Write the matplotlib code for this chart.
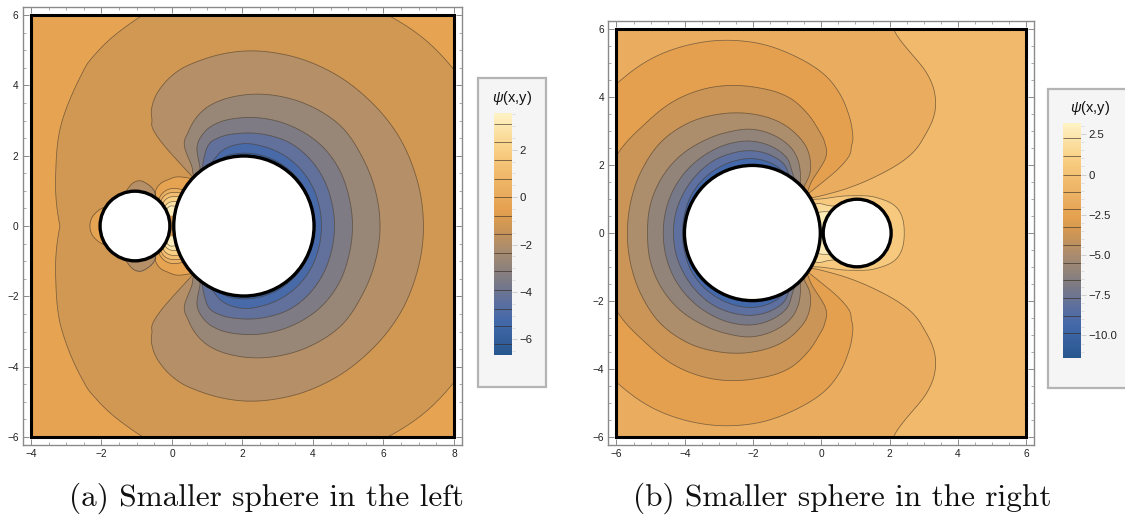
import numpy as np
import matplotlib
matplotlib.use("Agg")
import matplotlib.pyplot as plt
import matplotlib.tri as mtri
from matplotlib.colors import LinearSegmentedColormap
from matplotlib.patches import Rectangle, Circle

plt.rcParams['font.family'] = ['Liberation Sans', 'DejaVu Sans']
plt.rcParams['mathtext.fontset'] = 'custom'
plt.rcParams['mathtext.rm'] = 'Liberation Sans'
plt.rcParams['mathtext.it'] = 'Liberation Sans:italic'

# ---------- Readings from the picture: psi levels and where each contour sits ----------
LEFT_RANGE = [-6.66, 3.55]
RIGHT_RANGE = [-11.4, 3.2]
LEFT_LINES = [-6.2, -5.45, -4.7, -3.9, -3.1, -2.34, -1.55, -0.79, 0.0, 0.76, 1.55, 2.33, 3.1]
RIGHT_LINES = [-9.84, -8.78, -7.68, -6.58, -5.47, -4.4, -3.28, -2.17, -1.06, 0.0, 1.14, 2.24]
LEFT_TICKS = [2, 0, -2, -4, -6]
RIGHT_TICKS = [2.5, 0, -2.5, -5.0, -7.5, -10.0]
LEFT_SPHERES = [(2.04, 1.99), (-1.05, 0.99)]
RIGHT_SPHERES = [(-2.02, 1.99), (1.05, 0.995)]

# Left panel, around the large sphere: angle (deg from +x), radius of each contour
L_ANG = [0, 15, 30, 45, 60, 75, 90, 105, 112, 120, 126, 130, 134, 135.5, 150, 165, 180]
L_PSI = [-6.66, -6.2, -5.45, -4.7, -3.9, -3.1, -2.34, -1.55, -0.79, 0.0]
L_R = [
    [.5] * 17,
    [1.9, 1.9, 1.9, 1.9, 1.9, 1.9, 1.9, 1.88, 1.84, 1.74, 1.68, 1.6, 1.5, 1.45, 1.4, 1.35, 1.3],
    [2.02, 2.03, 2.06, 2.07, 2.08, 2.08, 2.07, 2.03, 1.94, 1.84, 1.76, 1.68, 1.58, 1.53, 1.48, 1.43, 1.38],
    [2.24, 2.25, 2.28, 2.31, 2.33, 2.34, 2.34, 2.22, 2.08, 1.92, 1.84, 1.76, 1.66, 1.6, 1.55, 1.5, 1.46],
    [2.61, 2.62, 2.66, 2.7, 2.72, 2.68, 2.64, 2.6, 2.52, 2.2, 1.95, 1.85, 1.74, 1.68, 1.63, 1.58, 1.54],
    [3.12, 3.13, 3.18, 3.2, 3.17, 3.13, 3.08, 3.0, 2.88, 2.58, 2.05, 1.95, 1.84, 1.76, 1.71, 1.66, 1.62],
    [3.9, 3.9, 3.92, 3.98, 3.92, 3.83, 3.72, 3.55, 3.38, 3.08, 2.8, 2.25, 2.0, 1.88, 1.8, 1.75, 1.7],
    [5.13, 5.12, 5.11, 5.07, 5.05, 5.02, 4.97, 4.85, 4.78, 4.58, 4.32, 4.0, 3.3, 2.0, 1.9, 1.85, 1.8],
    [8.0, 7.8, 7.5, 7.4, 7.2, 7.0, 6.85, 6.7, 6.65, 6.55, 6.48, 6.42, 6.35, 6.3, 5.9, 5.47, 5.16],
    [20.] * 17,
]
# Left panel, fan of contours in the gap, around the contact point
LG_ANG = [50, 60, 72, 85, 95, 105, 115, 125, 135, 150]
LG_PSI = [-1.2, -0.79, 0.0, 0.76, 1.55, 2.33, 3.1, 3.55]
LG_R = [
    [1.85, 1.8, 1.74, 1.7, 1.62, 1.55, 1.4, 1.1, .88, .72],
    [1.55, 1.50, 1.44, 1.40, 1.32, 1.25, 1.10, .80, .58, .42],
    [1.2, 1.12, 1.08, 1.07, 1.05, .98, .86, .66, .50, .36],
    [1.1, 1.02, .98, .96, .94, .88, .76, .58, .44, .32],
    [.98, .90, .86, .84, .82, .76, .65, .5, .38, .28],
    [.82, .76, .72, .70, .68, .63, .55, .42, .32, .24],
    [.68, .62, .58, .57, .57, .52, .45, .34, .26, .2],
    [.3, .3, .3, .3, .3, .3, .25, .2, .15, .12],
]
# Left panel, lobe left of the small sphere (angle from -x) and lobes above/below it
LL_ANG = [0, 10, 20, 30, 35]
LL_PSI = [-0.4, -0.79, -1.2]
LL_R = [[.5] * 5, [1.33, 1.3, 1.2, 1.07, 1.0], [1.53, 1.5, 1.4, 1.27, 1.2]]
LT_ANG = [55, 64, 77, 86, 94, 106, 115]
LT_PSI = [-2.0, -1.55, -1.2]
LT_R = [[.5] * 7, [.95, 1.12, 1.24, 1.29, 1.24, 1.05, .95], [1.15, 1.32, 1.44, 1.49, 1.44, 1.25, 1.15]]

# Right panel, around the large sphere: angle (deg from -x), radius of each contour
R_ANG = [0, 15, 30, 45, 60, 75, 90, 105, 115, 122, 128, 134, 138, 143, 144.5, 150, 165, 180]
R_PSI = [-11.4, -9.84, -8.78, -7.68, -6.58, -5.47, -4.4, -3.28, -2.17, -1.06]
R_R = [
    [.5] * 18,
    [1.92, 1.92, 1.93, 1.94, 1.95, 1.96, 1.96, 1.94, 1.88, 1.8, 1.72, 1.62, 1.56, 1.48, 1.4, 1.36, 1.31, 1.24],
    [2.07, 2.08, 2.12, 2.15, 2.17, 2.19, 2.19, 2.12, 2.02, 1.9, 1.8, 1.7, 1.64, 1.56, 1.48, 1.44, 1.39, 1.32],
    [2.33, 2.34, 2.35, 2.38, 2.42, 2.43, 2.42, 2.33, 2.2, 2.0, 1.88, 1.78, 1.72, 1.64, 1.56, 1.52, 1.47, 1.4],
    [2.63, 2.64, 2.66, 2.68, 2.7, 2.72, 2.7, 2.57, 2.4, 2.15, 1.98, 1.85, 1.8, 1.72, 1.64, 1.6, 1.55, 1.48],
    [3.09, 3.12, 3.13, 3.12, 3.08, 3.06, 3.05, 2.9, 2.72, 2.5, 2.25, 2.0, 1.9, 1.8, 1.72, 1.68, 1.62, 1.56],
    [3.68, 3.7, 3.75, 3.8, 3.75, 3.63, 3.5, 3.33, 3.14, 2.96, 2.72, 2.38, 2.0, 1.9, 1.8, 1.75, 1.7, 1.64],
    [4.55, 4.55, 4.6, 4.51, 4.52, 4.45, 4.3, 4.12, 3.84, 3.6, 3.4, 3.05, 2.35, 1.98, 1.88, 1.83, 1.78, 1.72],
    [6.0, 6.0, 6.0, 5.93, 5.92, 5.8, 5.6, 5.3, 5.07, 4.8, 4.5, 4.17, 3.88, 3.07, 1.95, 1.9, 1.85, 1.8],
    [20.] * 18,
]
# Right panel, the -1.06 contour, seen from a point far to the right at x = 12
RF_ANG = [0, 4, 4.8, 5.2, 6.7, 9.6, 13.1, 16.6, 24.1, 28, 31.2, 38, 50]
RF_PSI = [-0.5, -1.06, -1.5]
RF_R = [
    [3.0] * 13,
    [14.0, 13.0, 12.36, 12.08, 11.32, 10.42, 9.76, 9.47, 9.49, 10.14, 11.56, 12.5, 15.0],
    [17.0, 16.0, 15.4, 15.1, 14.4, 13.5, 12.8, 12.5, 12.5, 13.2, 14.6, 15.5, 18.0],
]
# Right panel, contours round the small sphere: angle (deg from +x), radius
RS_ANG = [0, 30, 58, 87, 105, 125, 135, 141, 150, 160, 170, 180]
RS_PSI = [3.2, 2.24, 1.14, 0.0, -0.6]
RS_R = [
    [.5] * 12,
    [.8, .8, .8, .8, .82, .85, .92, 1.0, 1.22, 1.4, 1.5, 1.55],
    [.9, .9, .9, .9, .92, .97, 1.15, 1.38, 1.55, 1.7, 1.76, 1.8],
    [1.43, 1.43, 1.22, 1.10, 1.13, 1.27, 1.42, 1.57, 1.8, 1.92, 1.97, 2.0],
    [1.7, 1.7, 1.5, 1.38, 1.41, 1.55, 1.7, 1.85, 2.08, 2.2, 2.25, 2.3],
]

CAPTIONS = ["(a) Smaller sphere in the left", "(b) Smaller sphere in the right"]

stops = [(0, '#28578f'), (.14, '#4469aa'), (.22, '#5e709e'), (.30, '#7a7a86'), (.37, '#93847a'),
         (.445, '#ad8d6c'), (.52, '#cb9556'), (.60, '#e5a14f'), (.67, '#eaad60'), (.744, '#f0b96b'),
         (.85, '#f9d085'), (1, '#fff3c6')]
cmap = LinearSegmentedColormap.from_list('psi', stops)

W, H = 1125, 516
EPS = 1e-3
fig = plt.figure(figsize=(W / 100, H / 100), dpi=100)


def px_axes(l, t, r, b, **kw):
    return fig.add_axes([l / W, 1 - b / H, (r - l) / W, (b - t) / H], **kw)


def mesh(cx, direction, ang, rows, psi, flip=False):
    """Smooth each contour through its readings with matplotlib's own tri tools."""
    ang = np.asarray(ang, float)
    rows = np.asarray(rows, float)
    if ang[0] == 0:
        th = np.r_[-ang[:0:-1], ang]
        rr = np.hstack([rows[:, :0:-1], rows])
    else:
        th, rr = ang, rows
    nk, ni = rr.shape
    U, V = np.meshgrid(th / 10.0, np.arange(nk, dtype=float))
    tris = []
    for i in range(ni - 1):
        for k in range(nk - 1):
            a, b, c, d = k * ni + i, k * ni + i + 1, (k + 1) * ni + i + 1, (k + 1) * ni + i
            tris += [(a, b, c), (a, c, d)]
    param = mtri.Triangulation(U.ravel(), V.ravel(), np.array(tris))
    fine = mtri.UniformTriRefiner(param).refine_triangulation(subdiv=3)
    cubic = mtri.CubicTriInterpolator(param, rr.ravel(), kind='geom')
    # Along a contour the curve is smooth; between two contours the radius runs straight.
    u = np.clip(fine.x, U.min() + 1e-7, U.max() - 1e-7)
    k0 = np.clip(np.floor(fine.y + 1e-9), 0, nk - 2)
    f = fine.y - k0
    r0 = np.ma.filled(cubic(u, np.clip(k0, 1e-7, nk - 1 - 1e-7)), np.nan)
    r1 = np.ma.filled(cubic(u, np.clip(k0 + 1, 1e-7, nk - 1 - 1e-7)), np.nan)
    rfine = (1 - f) * r0 + f * r1
    zfine = np.interp(fine.y, np.arange(nk), psi)
    t = np.radians(fine.x * 10.0)
    x = cx + direction * rfine * np.cos(t)
    y = rfine * np.sin(t) * (-1 if flip else 1)
    return mtri.Triangulation(x, y, fine.triangles), zfine


def draw(ax, clip, rng, cx, direction, ang, rows, psi, edges, lines, low_open=False, high_open=False,
         flip=False, zorder=2):
    tri, z = mesh(cx, direction, ang, rows, psi, flip)
    mids = [(a + b) / 2 for a, b in zip(edges[:-1], edges[1:])]
    colors = [cmap((m - rng[0]) / (rng[1] - rng[0])) for m in mids]
    levs = [e + EPS for e in edges]
    if low_open:
        levs[0] = -99
    if high_open:
        levs[-1] = 99
    cf = ax.tricontourf(tri, z, levels=levs, colors=colors, zorder=zorder, antialiased=True)
    cf.set_edgecolor('face')
    cf.set_linewidth(0.3)
    cf.set_clip_path(clip)
    cl = ax.tricontour(tri, z, levels=[v + EPS for v in lines], colors='#32281c', linewidths=0.55,
                       alpha=0.6, linestyles='solid', zorder=zorder + .5)
    cl.set_clip_path(clip)


def panel(box, xlim, ylim, frame_x, xt):
    ax = px_axes(*box)
    ax.set_xlim(*xlim)
    ax.set_ylim(*ylim)
    ax.set_xticks(xt)
    ax.set_yticks(np.arange(-6, 7, 2))
    ax.set_xticks(np.arange(frame_x[0], frame_x[1] + .1, .5), minor=True)
    ax.set_yticks(np.arange(-6, 6.1, .5), minor=True)
    ax.tick_params(which='major', direction='in', length=4, width=.6, color='#777777', top=True,
                   right=True, labelsize=7.3, pad=3, labelcolor='#222222')
    ax.tick_params(which='minor', direction='in', length=2.3, width=.5, color='#888888', top=True, right=True)
    for s in ax.spines.values():
        s.set_color('#8a8a8a')
        s.set_linewidth(1.0)
    ax.xaxis.set_major_formatter(lambda v, p: f"{int(v)}".replace('-', '\u2212'))
    ax.yaxis.set_major_formatter(lambda v, p: f"{int(v)}".replace('-', '\u2212'))
    clip = Rectangle((frame_x[0], -6), frame_x[1] - frame_x[0], 12, transform=ax.transData)
    return ax, clip


def finish(ax, frame_x, circles):
    for (c, r) in circles:
        ax.add_patch(Circle((c, 0), r, fc='white', ec='black', lw=2.4, zorder=10))
    ax.add_patch(Rectangle((frame_x[0], -6), frame_x[1] - frame_x[0], 12, fill=False, ec='black',
                           lw=2.2, zorder=11))


def legend(boxpx, barpx, rng, lines, ticks, title_xy, fmt, minor):
    l, t, r, b = boxpx
    fig.add_artist(Rectangle((l / W, 1 - b / H), (r - l) / W, (b - t) / H, transform=fig.transFigure,
                             fc='#f5f5f5', ec='#b4b4b4', lw=1.6, zorder=-1))
    cax = px_axes(*barpx)
    grad = np.linspace(0, 1, 256)[:, None]
    cax.imshow(grad, cmap=cmap, origin='lower', aspect='auto', extent=[0, 1, rng[0], rng[1]], vmin=0, vmax=1)
    cax.hlines(lines, 0, 1, colors='#32281c', linewidths=.7, alpha=.6)
    for s in cax.spines.values():
        s.set_visible(False)
    cax.set_xticks([])
    cax.yaxis.tick_right()
    cax.set_yticks(ticks)
    cax.set_yticklabels([fmt(v).replace('-', '\u2212') for v in ticks])
    cax.set_yticks(minor, minor=True)
    cax.tick_params(which='major', length=3.5, width=.6, color='#c8c8c8', labelsize=8.2, pad=2, labelcolor='#222222')
    cax.tick_params(which='minor', length=2, width=.5, color='#d4d4d4')
    fig.text(title_xy[0] / W, 1 - title_xy[1] / H, r'$\psi$(x,y)', ha='center', va='center',
             fontsize=10.5, color='#111111')


# ---------- Left panel ----------
ax, clip = panel((22.7, 6.7, 462, 445), (-4.235, 8.227), (-6.227, 6.236), (-4, 8), [-4, -2, 0, 2, 4, 6, 8])
draw(ax, clip, LEFT_RANGE, 2, 1, L_ANG, L_R, L_PSI, L_PSI, LEFT_LINES[:8], low_open=True, high_open=True)
for flip in (False, True):
    draw(ax, clip, LEFT_RANGE, 0, 1, LG_ANG, LG_R, LG_PSI, LG_PSI[1:], LG_PSI[1:-1], high_open=True, flip=flip, zorder=3)
    draw(ax, clip, LEFT_RANGE, -1, 1, LT_ANG, LT_R, LT_PSI, [-2.34, -1.55], [-1.55], low_open=True, flip=flip, zorder=3)
draw(ax, clip, LEFT_RANGE, -1, -1, LL_ANG, LL_R, LL_PSI, [-0.79, 0.0], [-0.79], high_open=True, zorder=3)
finish(ax, (-4, 8), LEFT_SPHERES)

# ---------- Right panel ----------
ax, clip = panel((608.3, 20.7, 1034, 445), (-6.24, 6.23), (-6.24, 6.25), (-6, 6), [-6, -4, -2, 0, 2, 4, 6])
draw(ax, clip, RIGHT_RANGE, -2, -1, R_ANG, R_R, R_PSI, R_PSI, RIGHT_LINES[:8], low_open=True, high_open=True)
draw(ax, clip, RIGHT_RANGE, 12, -1, RF_ANG, RF_R, RF_PSI, [-1.06, 0.0], [-1.06], high_open=True, zorder=3)
draw(ax, clip, RIGHT_RANGE, 1, 1, RS_ANG, RS_R, RS_PSI, [0.0, 1.14, 2.24, 3.2], [0.0, 1.14, 2.24], high_open=True, zorder=4)
finish(ax, (-6, 6), RIGHT_SPHERES)

# ---------- Legends ----------
legend((478, 78, 546, 387), (494, 113, 512, 355), LEFT_RANGE, LEFT_LINES, LEFT_TICKS, (512, 98),
       lambda v: f"{v:d}", np.arange(-6.5, 3.6, .5))
legend((1048, 89, 1135, 388), (1063.3, 123, 1080.7, 358), RIGHT_RANGE, RIGHT_LINES, RIGHT_TICKS, (1090, 108),
       lambda v: "0" if v == 0 else f"{v:.1f}", np.arange(-11, 3.1, .5))

# ---------- Captions ----------
fig.text(266 / W, 1 - 498 / H, CAPTIONS[0], family='cmr10', fontsize=22.5, ha='center', va='center', color='#111111')
fig.text(842 / W, 1 - 498 / H, CAPTIONS[1], family='cmr10', fontsize=22.5, ha='center', va='center', color='#111111')

fig.savefig('out.png', dpi=100)
